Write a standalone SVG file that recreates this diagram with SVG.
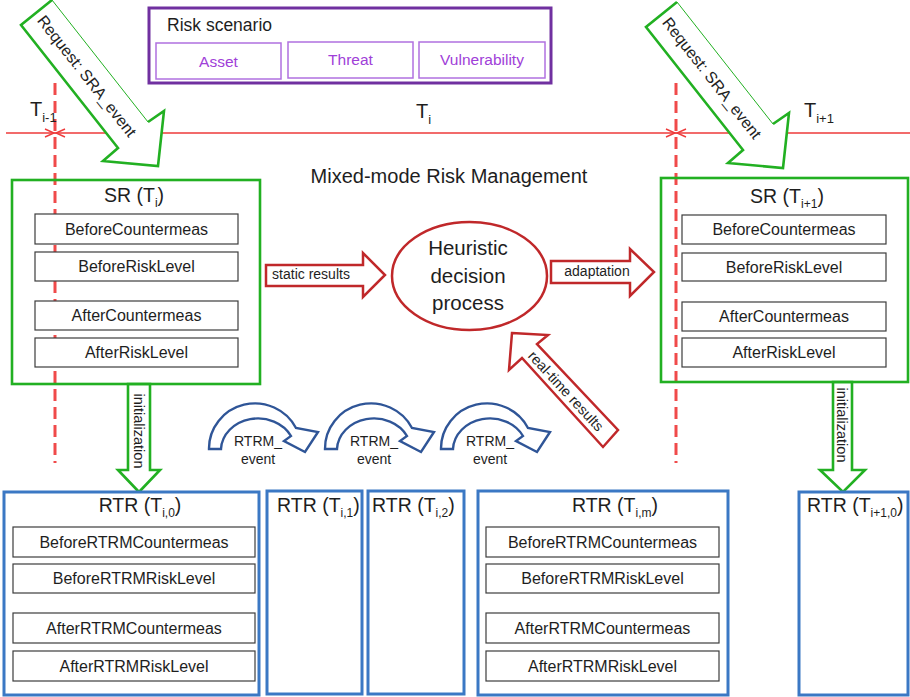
<svg xmlns="http://www.w3.org/2000/svg" width="910" height="697" viewBox="0 0 910 697">
<defs>
<style>
  .t{font-family:"Liberation Sans",Arial,sans-serif;fill:#1e1e1e}
  .mid{text-anchor:middle}
  .item{fill:#fff;stroke:#3c3c3c;stroke-width:1.2}
  .sr{fill:none;stroke:#22b022;stroke-width:2.6}
  .rtr{fill:#fff;stroke:#3b78c4;stroke-width:3}
  .redarrow{fill:#fff;stroke:#c0282a;stroke-width:2.5;stroke-linejoin:miter}
  .grn{fill:#fff;stroke:#22b022;stroke-width:2.6;stroke-linejoin:miter}
  .grnthin{fill:none;stroke:#22b022;stroke-width:1}
  .loop{fill:#fff;stroke:#2f5597;stroke-width:2.4;stroke-linejoin:miter}
  .timeline{stroke:#ee3a3a;stroke-width:1.4;fill:none}
  .dash{stroke:#f04a4a;stroke-width:3;stroke-dasharray:12 6;fill:none}
  .purple{fill:#a040d8}
</style>
<path id="loop-shape" class="loop" d="M209,449 A46,45 0 0 1 296,428 L318,432 L305,452 L284,441 L291,436 A37,32 0 0 0 221,449 Z"/>
</defs>
<rect width="910" height="697" fill="#fff"/>

<!-- time axis with period boundaries -->
<g id="timeline">
  <line class="timeline" x1="6" y1="133" x2="910" y2="133"/>
  <polyline class="timeline" points="45,129 54,133 45,137"/>
  <polyline class="timeline" points="65,129 56,133 65,137"/>
  <polyline class="timeline" points="666,129 675,133 666,137"/>
  <polyline class="timeline" points="686,129 677,133 686,137"/>
  <line class="dash" x1="55" y1="83" x2="55" y2="463"/>
  <line class="dash" x1="676" y1="83" x2="676" y2="463"/>
  <text class="t" x="30" y="116" font-size="20">T<tspan font-size="13" dy="6">i-1</tspan></text>
  <text class="t" x="416" y="118" font-size="20">T<tspan font-size="13" dy="6">i</tspan></text>
  <text class="t" x="804" y="117" font-size="20">T<tspan font-size="13" dy="6">i+1</tspan></text>
</g>

<!-- risk scenario -->
<g id="risk-scenario">
  <rect x="149" y="8" width="402" height="75" fill="#fff" stroke="#7030a0" stroke-width="3"/>
  <text class="t" x="167" y="31" font-size="17.5">Risk scenario</text>
  <rect x="156" y="43" width="125" height="36" fill="#fff" stroke="#b070e0" stroke-width="1.5"/>
  <rect x="288" y="42" width="125" height="36" fill="#fff" stroke="#b070e0" stroke-width="1.5"/>
  <rect x="419" y="42" width="126" height="36" fill="#fff" stroke="#b070e0" stroke-width="1.5"/>
  <text class="t mid purple" x="218.5" y="67" font-size="15.5">Asset</text>
  <text class="t mid purple" x="350.5" y="65" font-size="15.5">Threat</text>
  <text class="t mid purple" x="482" y="65" font-size="15.5">Vulnerability</text>
</g>

<text class="t mid" x="449" y="183" font-size="20">Mixed-mode Risk Management</text>

<!-- connectors -->
<g id="connectors">
  <!-- SRA event requests -->
  <g id="request-left">
    <polygon points="21,25 52,0 148,122 164,111 158,166 103,161 118,148" fill="#fff"/>
    <polyline class="grn" fill="none" points="148,122 164,111 158,166 103,161 118,148 21,25 52,0"/>
    <line class="grnthin" x1="52" y1="0" x2="148" y2="122"/>
    <text class="t mid" font-size="16" transform="translate(87,76) rotate(51.8)" dy="0.35em">Request: SRA_event</text>
  </g>
  <g id="request-right" transform="translate(625,2)">
    <polygon points="21,25 52,0 148,122 164,111 158,166 103,161 118,148" fill="#fff"/>
    <polyline class="grn" fill="none" points="148,122 164,111 158,166 103,161 118,148 21,25 52,0"/>
    <line class="grnthin" x1="52" y1="0" x2="148" y2="122"/>
    <text class="t mid" font-size="16" transform="translate(87,76) rotate(51.8)" dy="0.35em">Request: SRA_event</text>
  </g>

  <!-- results into / out of the decision process -->
  <polygon class="redarrow" points="266,265 363,265 363,253 385,275 363,297 363,286 266,286"/>
  <text class="t mid" x="311" y="279" font-size="14">static results</text>
  <polygon class="redarrow" points="551,261 630,261 630,249 654,272 630,296 630,283 551,283"/>
  <text class="t mid" x="597" y="276" font-size="14">adaptation</text>
  <polygon class="redarrow" points="512,333 548,335 537,344 618,430 603,447 522,358 509,370"/>
  <text class="t mid" font-size="14.5" transform="translate(566,391) rotate(47.2)" dy="0.35em">real-time results</text>

  <!-- initialization -->
  <polygon class="grn" points="128,384 150,384 150,470 160,470 139,492 118,470 128,470"/>
  <text class="t mid" font-size="14.5" transform="translate(139,431) rotate(90)" dy="0.35em">initialization</text>
  <polygon class="grn" points="833,382 852,382 852,470 865,470 843,492 820,470 833,470"/>
  <text class="t mid" font-size="14.5" transform="translate(842.5,425) rotate(90)" dy="0.35em">initialization</text>

  <!-- real-time events -->
  <g id="rtrm-event-1">
    <use href="#loop-shape"/>
    <text class="t mid" x="258" y="446" font-size="14">RTRM_</text>
    <text class="t mid" x="258" y="464" font-size="14">event</text>
  </g>
  <g id="rtrm-event-2" transform="translate(116,0)">
    <use href="#loop-shape"/>
    <text class="t mid" x="258" y="446" font-size="14">RTRM_</text>
    <text class="t mid" x="258" y="464" font-size="14">event</text>
  </g>
  <g id="rtrm-event-3" transform="translate(232,0)">
    <use href="#loop-shape"/>
    <text class="t mid" x="258" y="446" font-size="14">RTRM_</text>
    <text class="t mid" x="258" y="464" font-size="14">event</text>
  </g>
</g>

<!-- static risk for T_i -->
<g id="sr-ti">
  <rect class="sr" x="12" y="180" width="248" height="204"/>
  <text class="t mid" x="134" y="202" font-size="19.5">SR (T<tspan font-size="12" dy="5">i</tspan><tspan dy="-5">)</tspan></text>
  <rect class="item" x="35" y="214" width="203" height="30"/>
  <rect class="item" x="35" y="252" width="203" height="29"/>
  <rect class="item" x="35" y="301" width="203" height="29"/>
  <rect class="item" x="35" y="338" width="203" height="29"/>
  <text class="t mid" x="136.5" y="235" font-size="16">BeforeCountermeas</text>
  <text class="t mid" x="136.5" y="272" font-size="16">BeforeRiskLevel</text>
  <text class="t mid" x="136.5" y="321" font-size="16">AfterCountermeas</text>
  <text class="t mid" x="136.5" y="358" font-size="16">AfterRiskLevel</text>
</g>

<!-- heuristic decision -->
<g id="decision">
  <ellipse cx="469.5" cy="276" rx="77.5" ry="54" fill="#fff" stroke="#c0282a" stroke-width="2.5"/>
  <text class="t mid" x="468" y="255" font-size="20.5">Heuristic</text>
  <text class="t mid" x="468" y="283" font-size="20.5">decision</text>
  <text class="t mid" x="468" y="310" font-size="20.5">process</text>
</g>

<!-- static risk for T_i+1 -->
<g id="sr-ti1">
  <rect class="sr" x="661" y="178" width="247" height="204"/>
  <text class="t mid" x="787" y="203" font-size="19.5">SR (T<tspan font-size="12" dy="5">i+1</tspan><tspan dy="-5">)</tspan></text>
  <rect class="item" x="682" y="215" width="204" height="29"/>
  <rect class="item" x="682" y="253" width="204" height="28"/>
  <rect class="item" x="682" y="302" width="204" height="29"/>
  <rect class="item" x="682" y="338" width="204" height="29"/>
  <text class="t mid" x="784" y="235" font-size="16">BeforeCountermeas</text>
  <text class="t mid" x="784" y="273" font-size="16">BeforeRiskLevel</text>
  <text class="t mid" x="784" y="322" font-size="16">AfterCountermeas</text>
  <text class="t mid" x="784" y="358" font-size="16">AfterRiskLevel</text>
</g>

<!-- real-time risk snapshots -->
<g id="rtr-ti0">
  <rect class="rtr" x="4" y="492" width="255" height="203"/>
  <text class="t mid" x="140" y="512" font-size="19.5">RTR (T<tspan font-size="12" dy="5">i,0</tspan><tspan dy="-5">)</tspan></text>
  <rect class="item" x="13" y="527" width="242" height="30"/>
  <rect class="item" x="13" y="564" width="242" height="29"/>
  <rect class="item" x="13" y="613" width="242" height="30"/>
  <rect class="item" x="13" y="651" width="242" height="30"/>
  <text class="t mid" x="134" y="548" font-size="16">BeforeRTRMCountermeas</text>
  <text class="t mid" x="134" y="584" font-size="16">BeforeRTRMRiskLevel</text>
  <text class="t mid" x="134" y="634" font-size="16">AfterRTRMCountermeas</text>
  <text class="t mid" x="134" y="672" font-size="16">AfterRTRMRiskLevel</text>
</g>
<g id="rtr-ti1">
  <rect class="rtr" x="267" y="491" width="95" height="203"/>
  <text class="t" x="277" y="512" font-size="19.5">RTR (T<tspan font-size="12" dy="5">i,1</tspan><tspan dy="-5">)</tspan></text>
</g>
<g id="rtr-ti2">
  <rect class="rtr" x="368" y="491" width="96" height="203"/>
  <text class="t" x="372" y="512" font-size="19.5">RTR (T<tspan font-size="12" dy="5">i,2</tspan><tspan dy="-5">)</tspan></text>
</g>
<g id="rtr-tim">
  <rect class="rtr" x="478" y="491" width="250" height="204"/>
  <text class="t mid" x="615" y="512" font-size="19.5">RTR (T<tspan font-size="12" dy="5">i,m</tspan><tspan dy="-5">)</tspan></text>
  <rect class="item" x="486" y="527" width="233" height="30"/>
  <rect class="item" x="486" y="564" width="233" height="29"/>
  <rect class="item" x="486" y="613" width="233" height="30"/>
  <rect class="item" x="486" y="651" width="233" height="30"/>
  <text class="t mid" x="602.5" y="548" font-size="16">BeforeRTRMCountermeas</text>
  <text class="t mid" x="602.5" y="584" font-size="16">BeforeRTRMRiskLevel</text>
  <text class="t mid" x="602.5" y="634" font-size="16">AfterRTRMCountermeas</text>
  <text class="t mid" x="602.5" y="672" font-size="16">AfterRTRMRiskLevel</text>
</g>
<g id="rtr-ti10">
  <rect class="rtr" x="799" y="492" width="109" height="203"/>
  <text class="t" x="807" y="512" font-size="19.5">RTR (T<tspan font-size="12" dy="5">i+1,0</tspan><tspan dy="-5">)</tspan></text>
</g>
</svg>
